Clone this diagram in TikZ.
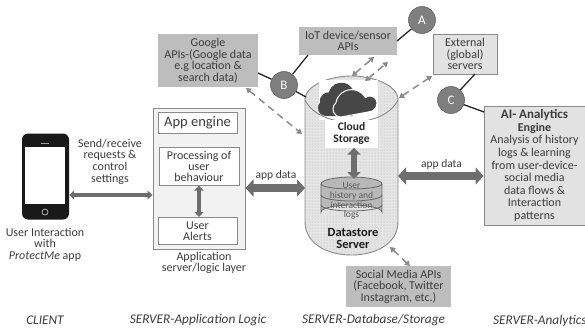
\documentclass[tikz,border=0pt]{standalone}
\usepackage{fontspec}
\setmainfont{Carlito}
\usetikzlibrary{arrows.meta,patterns}
\definecolor{ink}{HTML}{3C3C3C}
\definecolor{boxg}{HTML}{BDBDBD}
\definecolor{boxl}{HTML}{E2E2E2}
\definecolor{edge}{HTML}{8A8A8A}
\definecolor{circ}{HTML}{7F7F7F}
\definecolor{arrowg}{HTML}{6E6E6E}
\tikzset{
  txt/.style={text=ink,font=\fontsize{12}{11.6}\selectfont,align=center,inner sep=0pt},
  capt/.style={text=ink,font=\fontsize{13.3}{14}\selectfont\itshape,inner sep=0pt},
  greybox/.style={txt,fill=boxg,anchor=center},
  ligbox/.style={txt,fill=boxl,draw=edge,line width=1pt},
  whitebox/.style={txt,fill=white,draw=edge,line width=1pt},
  letter/.style={circle,fill=circ,draw=edge!70!black,line width=.6pt,minimum size=27pt,inner sep=0pt,text=white,font=\fontsize{13}{13}\selectfont},
  link/.style={line width=1.3pt,draw=black!85},
  dasharrow/.style={line width=1.5pt,draw=edge,dash pattern=on 7pt off 5pt,{Triangle[length=5pt,width=6pt]}-{Triangle[length=5pt,width=6pt]}},
  bigarrow/.style={line width=8pt,draw=arrowg,{Triangle[length=8pt,width=17pt]}-{Triangle[length=8pt,width=17pt]}},
  medarrow/.style={line width=4.5pt,draw=arrowg,{Triangle[length=5pt,width=9pt]}-{Triangle[length=5pt,width=9pt]}}
}
\newcommand{\cylpath}{(305,100)
  .. controls (305,85) and (330,76) .. (351.5,76)
  .. controls (373,76) and (398,85) .. (398,100)
  -- (398,222) .. controls (398,242) and (378,255) .. (351.5,255)
  .. controls (325,255) and (305,242) .. (305,222) -- cycle}
\begin{document}
\begin{tikzpicture}[x=1pt,y=-1pt]
\useasboundingbox (0,0) rectangle (585,327);
% phone
\node[rounded corners=6pt,fill=black!90,minimum width=47pt,minimum height=86pt,inner sep=0pt] (phone) at (45.5,176.5) {};
\node[fill=white,minimum width=40pt,minimum height=57pt,inner sep=0pt] (screen) at (45,175.5) {};
\draw[white!70!black,line width=.8pt] (45,212) circle (3pt);
\draw[white!60!black,line width=.8pt] (41,143.5) -- (49,143.5);
\node[txt] (ptext) at (45,244.5) {User Interaction\\with\\\textit{ProtectMe} app};
% application server
\node[ligbox,fill=boxl!45,minimum width=92pt,minimum height=141pt] (server) at (199,178.5) {};
\node[whitebox,minimum width=79pt,minimum height=21pt,font=\fontsize{14.5}{15}\selectfont] (engine) at (197.5,122.5) {App engine};
\node[whitebox,minimum width=80pt,minimum height=38pt,font=\fontsize{12}{11}\selectfont] (proc) at (199,166) {Processing of\\user\\behaviour};
\node[whitebox,minimum width=79pt,minimum height=27pt] (alerts) at (197.5,231) {User\\Alerts};
\node[txt] (stext) at (204,263) {Application\\server/logic layer};
\node[txt] (send) at (110,161.5) {Send/receive\\requests \&\\control\\settings};
\draw[medarrow] (phone.east |- 0,195) coordinate (pa) -- (server.west |- 0,195) coordinate (pb);
\draw[medarrow] (proc.south -| 199,0) -- (alerts.north -| 199,0);
% main cylinder
\path[fill=black!10,draw=edge,line width=.9pt] \cylpath;
\path[pattern=dots,pattern color=black!30] \cylpath;
\fill[white] (319,80) rectangle (378,120);
\draw[edge,line width=.9pt] (305,100) .. controls (312,114) and (330,122) .. (351.5,122) .. controls (373,122) and (391,114) .. (398,100);
\node[fill=white,minimum width=53pt,minimum height=28pt,inner sep=0pt,font=\fontsize{11.5}{12}\selectfont\bfseries,text=black!85,align=center] (cloud) at (351.5,133.5) {Cloud\\Storage};
% cloud icon
\fill[black!72] (326,116) arc[start angle=270,end angle=140,radius=8pt] arc[start angle=190,end angle=90,radius=9pt]
  arc[start angle=165,end angle=20,radius=13pt] arc[start angle=90,end angle=-40,radius=9pt] -- (352,116) -- cycle;
\fill[black!72,draw=white,line width=1pt] (341,117) arc[start angle=270,end angle=130,radius=8pt]
  arc[start angle=170,end angle=30,radius=16pt] arc[start angle=130,end angle=0,radius=7pt] arc[start angle=0,end angle=-90,radius=9pt] -- cycle;
% small cylinder
\path[fill=black!28,draw=black!60,line width=.8pt] (321,184) arc[start angle=180,end angle=0,x radius=30.5pt,y radius=7pt] -- (382,212) arc[start angle=0,end angle=180,x radius=30.5pt,y radius=7pt] -- cycle;
\draw[black!60,line width=.8pt] (321,184) arc[start angle=180,end angle=360,x radius=30.5pt,y radius=5pt];
\draw[black!60,line width=.8pt] (321,195) arc[start angle=180,end angle=360,x radius=30.5pt,y radius=6pt];
\draw[black!60,line width=.8pt] (321,205) arc[start angle=180,end angle=360,x radius=30.5pt,y radius=6pt];
\node[txt,text=black!65,font=\fontsize{9.5}{9.6}\selectfont] (logs) at (351.5,201) {User\\history and\\interaction\\logs};
\coordinate (logtop) at (354,179);
\draw[medarrow,line width=6pt,{Triangle[length=7pt,width=13pt]}-{Triangle[length=7pt,width=13pt]}] (cloud.south -| logtop) -- (logtop);
\node[font=\fontsize{12.5}{12}\selectfont\bfseries,text=black!90,align=center,inner sep=0pt] (dstore) at (353,238.5) {Datastore\\Server};
% boxes
\node[greybox,minimum width=100pt,minimum height=53pt] (google) at (208,60.5) {Google\\APIs-(Google data\\e.g location \&\\search data)};
\node[greybox,minimum width=98pt,minimum height=28pt] (iot) at (348,41) {IoT device/sensor\\APIs};
\node[ligbox,minimum width=64pt,minimum height=40pt] (ext) at (465,54) {External\\(global)\\servers};
\node[ligbox,minimum width=101pt,minimum height=119pt,anchor=center,font=\fontsize{12}{12.6}\selectfont] (ai) at (534.5,165.5) {\fontsize{13}{13}\selectfont\bfseries AI- Analytics\\\bfseries Engine\\\fontsize{12}{12.6}\selectfont\mdseries Analysis of history\\logs \& learning\\from user-device-\\social media\\data flows \&\\Interaction\\patterns};
\node[greybox,minimum width=105pt,minimum height=41pt] (social) at (398.5,286.5) {Social Media APIs\\(Facebook, Twitter\\Instagram, etc.)};
% circles
\node[letter] (A) at (422,20) {A};
\node[letter] (B) at (284,85) {B};
\node[letter] (C) at (451,100) {C};
% links
\coordinate (cylB) at (306,97);
\draw[link] (A) -- (397,41);
\draw[link] (B) -- (308,55);
\draw[link] (B) -- (258,73);
\draw[link] (B) -- (cylB);
\draw[link] (C) -- (475,74);
\draw[link] (C) -- (484,112);
% dashed arrows
\draw[dasharrow] (352,76) -- (374,57);
\draw[dasharrow] (365,81) -- (388,62);
\draw[dasharrow] (399,98) -- (432,76);
\draw[dasharrow] (246,88) -- (302,134);
\draw[dasharrow] (390,247) -- (410,266);
% big arrows
\draw[bigarrow] (server.east |- 0,188) -- (305,188);
\draw[bigarrow] (398,176) -- (ai.west |- 0,176);
\node[txt,font=\fontsize{11.5}{12}\selectfont] (ad1) at (276,175) {app data};
\node[txt,font=\fontsize{11.5}{12}\selectfont] (ad2) at (441.5,164) {app data};
% captions
\node[capt] (c1) at (45,320) {CLIENT};
\node[capt] (c2) at (198,320) {SERVER-Application Logic};
\node[capt] (c3) at (373.5,320) {SERVER-Database/Storage};
\node[capt,anchor=west] (c4) at (493,321) {SERVER-Analytics};
\end{tikzpicture}
\end{document}
